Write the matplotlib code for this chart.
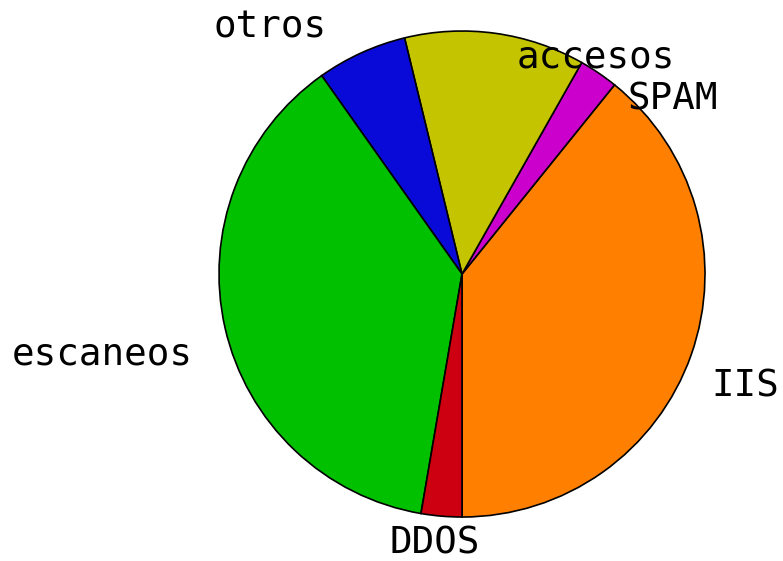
import matplotlib
matplotlib.use("Agg")
from matplotlib import pyplot as plt

# Porcentajes
etiquetas = ["IIS", "SPAM", "accesos", "otros", "escaneos", "DDOS"]
valores = [39.2, 2.6, 12.0, 6.0, 37.5, 2.7]
colores = ["#ff8000", "#cc00cc", "#c4c400", "#0a0ad8", "#00c000", "#cc0010"]

# posicion de cada etiqueta (x, y, alineacion) en coordenadas del pastel
pos_etiquetas = [(1.025, -0.506, "left"), (0.679, 0.675, "left"),
                 (0.226, 0.848, "left"), (-0.556, 0.975, "right"),
                 (-1.107, -0.374, "right"), (-0.111, -1.150, "center")]

fig = plt.figure(figsize=(7.83, 5.61), dpi=100)
ax = fig.add_axes([0.59 - 0.3103, 0.5116 - 0.4332, 0.6207, 0.8663])

ax.pie(valores, colors=colores, startangle=-90, counterclock=True,
       wedgeprops={"edgecolor": "black", "linewidth": 1.2})
ax.set_xlim(-1, 1)
ax.set_ylim(-1, 1)
ax.set_aspect("equal")
ax.axis("off")

for texto, (x, y, ha) in zip(etiquetas, pos_etiquetas):
    ax.text(x, y, texto, ha=ha, va="baseline", fontsize=27,
            family="DejaVu Sans Mono", clip_on=False)

fig.savefig("out.png", dpi=100)
